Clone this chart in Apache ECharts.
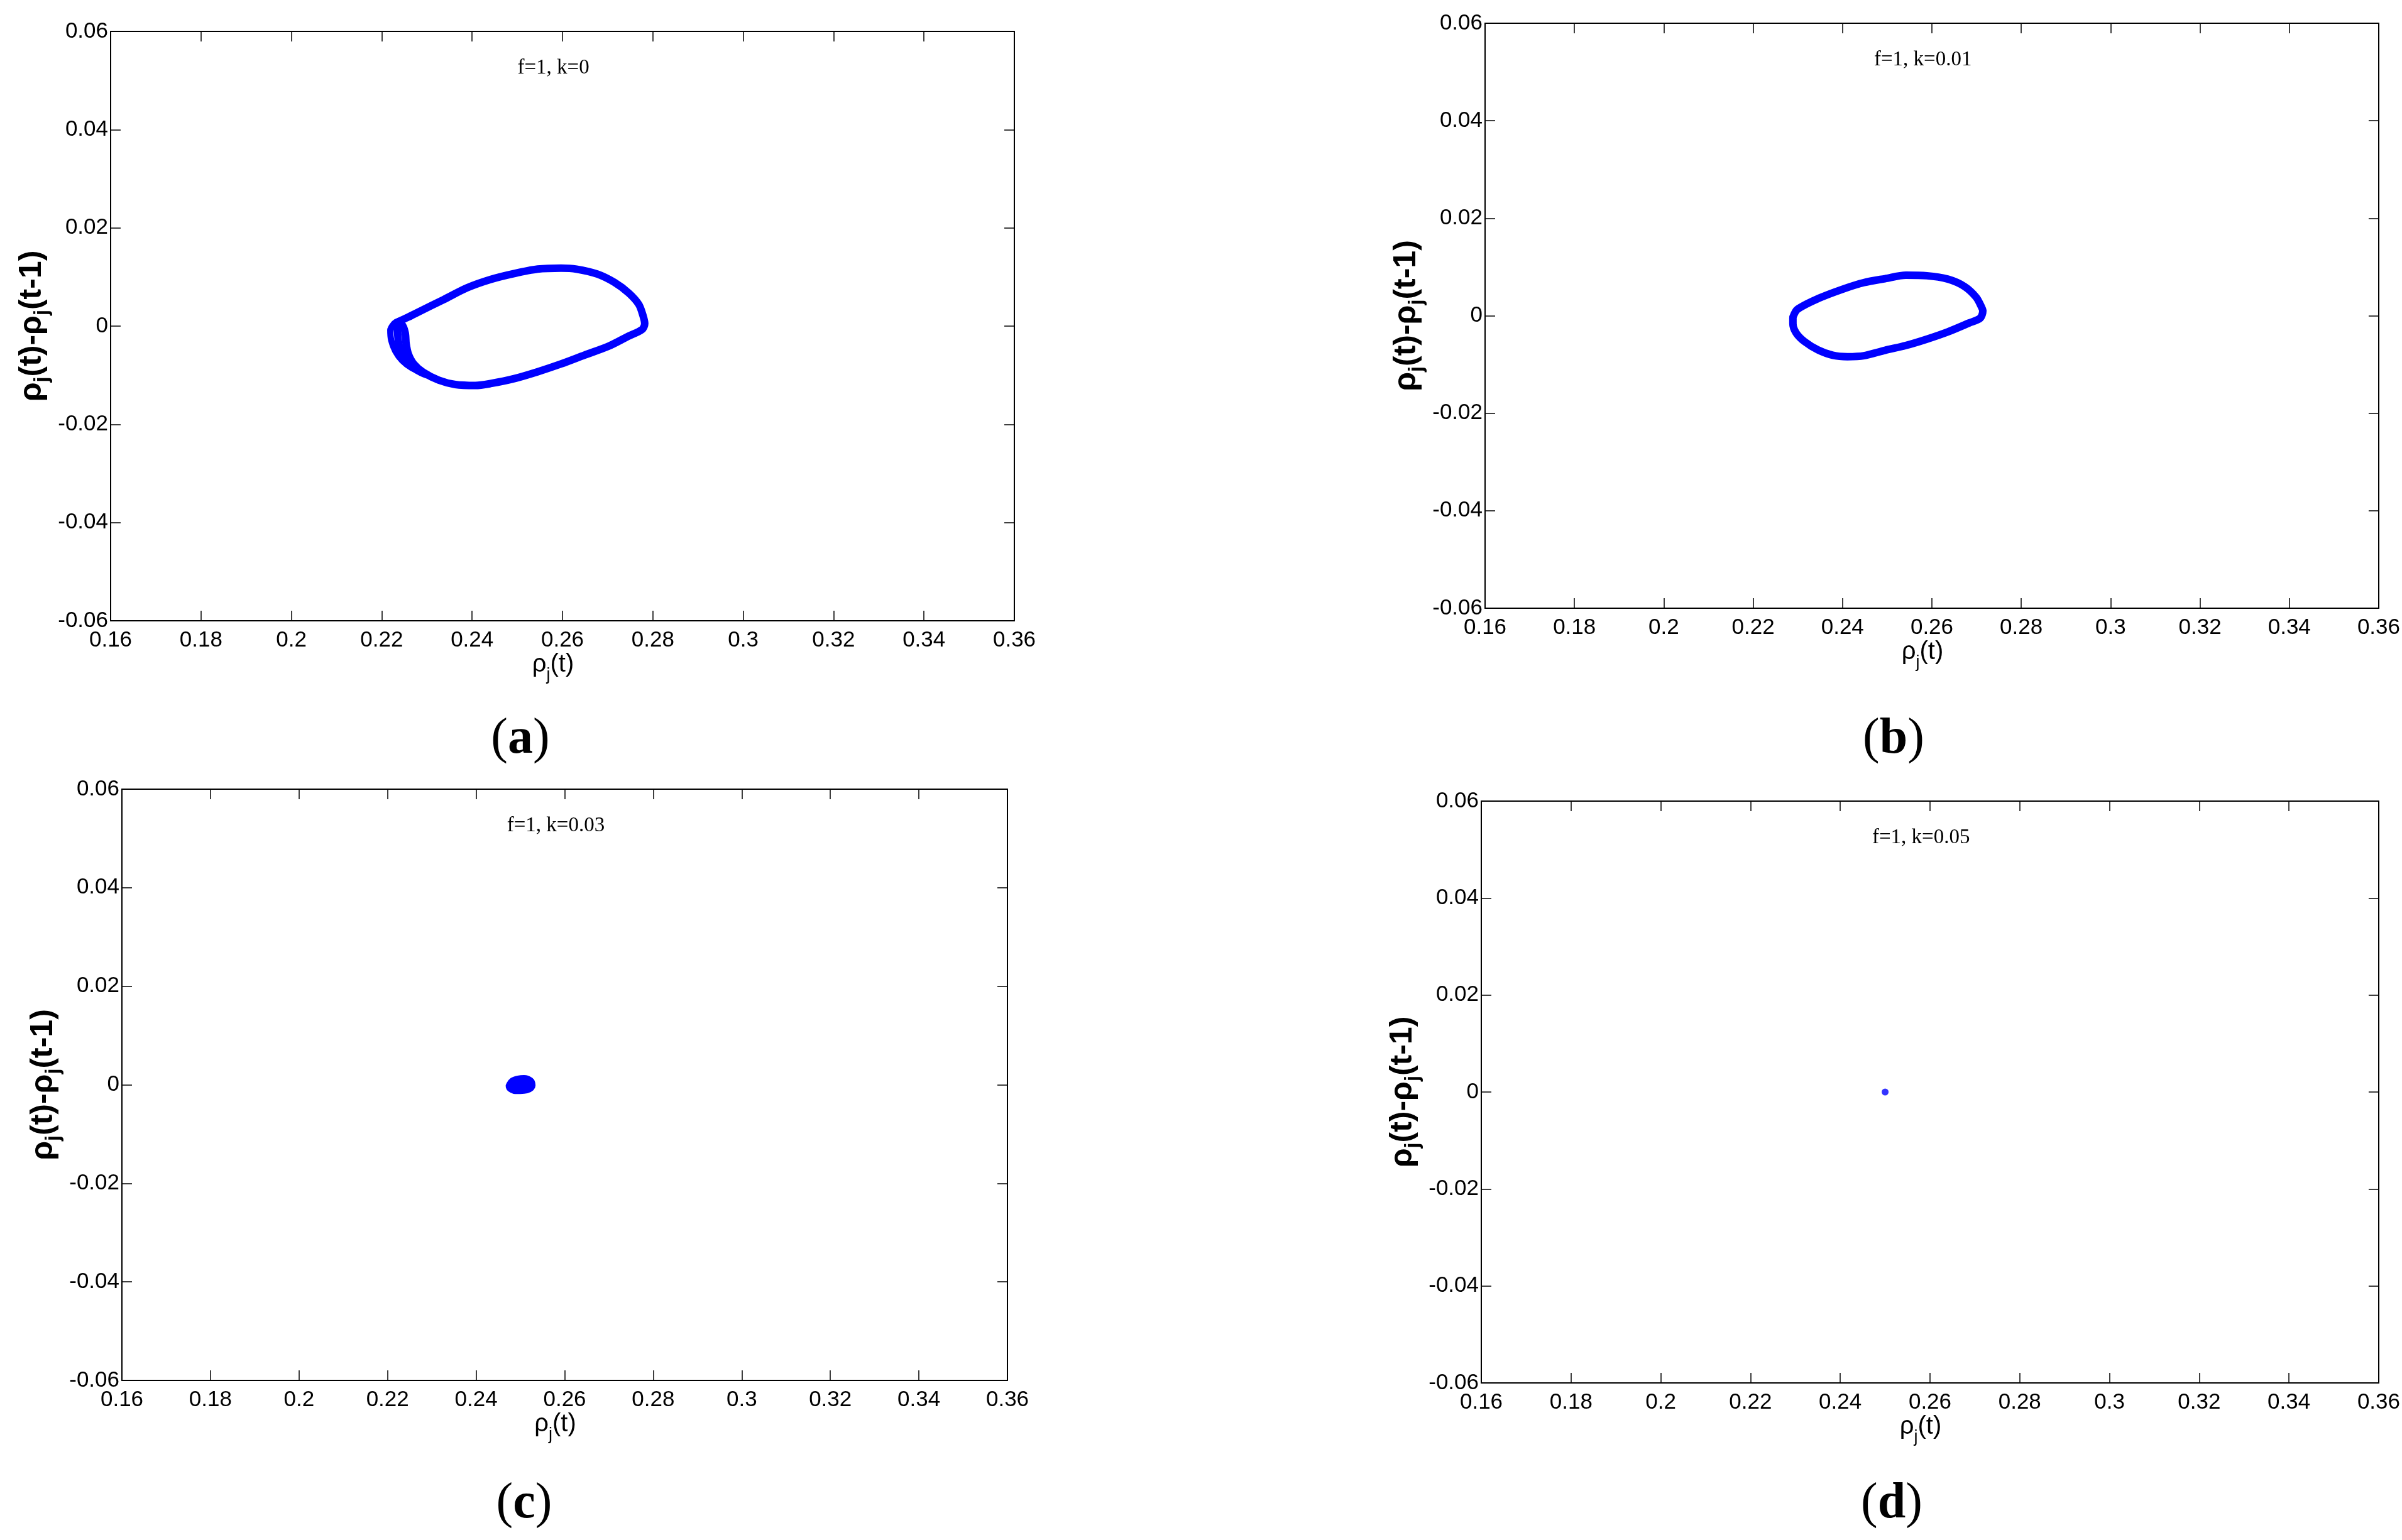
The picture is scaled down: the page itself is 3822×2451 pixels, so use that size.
<!DOCTYPE html>
<html>
<head>
<meta charset="utf-8">
<script src="https://cdn.jsdelivr.net/npm/echarts@6/dist/echarts.min.js"></script>
<style>
  html, body { margin: 0; padding: 0; background: #fff; }
  #container { width: 3822px; height: 2451px; }
</style>
</head>
<body>
<div id="container"></div>
<script>
// phase portraits, rho_j(t) against rho_j(t) - rho_j(t-1)
let xTicks = { min: 0.16, max: 0.36, step: 0.02 };
let yTicks = { min: -0.06, max: 0.06, step: 0.02 };

let titles = ['f=1, k=0', 'f=1, k=0.01', 'f=1, k=0.03', 'f=1, k=0.05'];
let tags = ['a', 'b', 'c', 'd'];
let titleAt = [0.258, 0.0525];

// (a) f=1, k=0 : limit cycle (centre of the band)
let loopA = [
  [0.2232, 0.0007], [0.2258, 0.0018], [0.2284, 0.0030], [0.2337, 0.0054],
  [0.2389, 0.0078], [0.2441, 0.0095], [0.2493, 0.0107], [0.2545, 0.0116],
  [0.2597, 0.0118], [0.2631, 0.0116], [0.2677, 0.0106], [0.2715, 0.0089],
  [0.2747, 0.0067], [0.2769, 0.0044], [0.2778, 0.0022], [0.2782, 0.0005],
  [0.2776, -0.0007], [0.2745, -0.0021], [0.2702, -0.0041], [0.2649, -0.0059],
  [0.2597, -0.0077], [0.2545, -0.0093], [0.2493, -0.0107], [0.2441, -0.0117],
  [0.2407, -0.0121], [0.2363, -0.0119], [0.2326, -0.0110], [0.2292, -0.0094],
  [0.2271, -0.0077], [0.2259, -0.0057], [0.2254, -0.0036], [0.2252, -0.0014],
  [0.2245, 0.0003], [0.2232, 0.0007]
];
// (a) outer strands on the left side of the cycle
let wedgeA = [
  [0.2227, 0.0005], [0.2219, -0.0008], [0.2221, -0.0029], [0.2230, -0.0051],
  [0.2245, -0.0070], [0.2266, -0.0085], [0.2292, -0.0096]
];
let wedgeMidA = [
  [0.2232, 0.0005], [0.2235, -0.0011], [0.2237, -0.0032], [0.2244, -0.0054],
  [0.2258, -0.0074], [0.2279, -0.0090], [0.2300, -0.0099]
];
// (b) f=1, k=0.01
let loopB = [
  [0.2289, -0.0003], [0.2299, 0.0013], [0.2345, 0.0035], [0.2402, 0.0055],
  [0.2448, 0.0068], [0.2495, 0.0076], [0.2542, 0.0083], [0.2589, 0.0082],
  [0.2636, 0.0075], [0.2673, 0.0060], [0.2699, 0.0038], [0.2711, 0.0018],
  [0.2714, 0.0010], [0.2708, -0.0005], [0.2683, -0.0015], [0.2636, -0.0033],
  [0.2589, -0.0048], [0.2542, -0.0061], [0.2495, -0.0071], [0.2448, -0.0082],
  [0.2411, -0.0084], [0.2378, -0.0081], [0.2345, -0.0070], [0.2315, -0.0053],
  [0.2296, -0.0035], [0.2289, -0.0016], [0.2289, -0.0003]
];
// (c) f=1, k=0.03 : small cycle around the fixed point
let blobC = [
  [0.2481, -0.0003], [0.2486, 0.0003], [0.2496, 0.0006], [0.2508, 0.0007],
  [0.2518, 0.0004], [0.2520, -0.0001], [0.2512, -0.0005], [0.2500, -0.0006],
  [0.2488, -0.0006], [0.2481, -0.0003]
];
// (d) f=1, k=0.05 : fixed point
let pointD = [[0.25, 0]];

let grids = [
  { left: 176, top: 50, width: 1438, height: 938 },
  { left: 2363, top: 37, width: 1423, height: 931 },
  { left: 194, top: 1256, width: 1409, height: 941 },
  { left: 2357, top: 1275, width: 1429, height: 926 }
];
let tagPos = [[828, 1177], [3013, 1177], [834, 2394], [3010, 2394]];

const blue = '#0000ff';
const sans = 'Liberation Sans';
const serif = 'Liberation Serif';

function fmt(v) {
  return String(+v.toFixed(2));
}

function axisBase(range) {
  return {
    type: 'value',
    min: range.min,
    max: range.max,
    interval: range.step,
    splitLine: { show: false },
    axisLine: { onZero: false, lineStyle: { color: '#000', width: 2 } },
    axisTick: { inside: true, length: 16, lineStyle: { color: '#000', width: 1.5 } }
  };
}

let xAxis = [];
let yAxis = [];
grids.forEach((g, i) => {
  xAxis.push(Object.assign(axisBase(xTicks), {
    gridIndex: i,
    position: 'bottom',
    axisLabel: { margin: 14, fontFamily: sans, fontSize: 35, color: '#000', formatter: fmt },
    name: '{r|ρ}{s|j}{r|(t)}',
    nameLocation: 'middle',
    nameGap: 35,
    nameTextStyle: {
      padding: [0, 30, 0, 0],
      rich: {
        r: { fontFamily: sans, fontSize: 40, color: '#000', lineHeight: 60, verticalAlign: 'middle' },
        s: { fontFamily: sans, fontSize: 27, color: '#000', lineHeight: 27, verticalAlign: 'bottom' }
      }
    }
  }));
  xAxis.push(Object.assign(axisBase(xTicks), {
    gridIndex: i,
    position: 'top',
    axisLabel: { show: false }
  }));
  yAxis.push(Object.assign(axisBase(yTicks), {
    gridIndex: i,
    position: 'left',
    axisLabel: { margin: 4, fontFamily: sans, fontSize: 35, color: '#000', formatter: fmt },
    name: '{r|ρ}{s|j}{r|(t)-ρ}{s|j}{r|(t-1)}',
    nameLocation: 'middle',
    nameGap: 93,
    nameTextStyle: {
      rich: {
        r: { fontFamily: sans, fontWeight: 'bold', fontSize: 50, color: '#000', lineHeight: 64, verticalAlign: 'middle' },
        s: { fontFamily: sans, fontWeight: 'bold', fontSize: 32, color: '#000', lineHeight: 32, verticalAlign: 'bottom' }
      }
    }
  }));
  yAxis.push(Object.assign(axisBase(yTicks), {
    gridIndex: i,
    position: 'right',
    axisLabel: { show: false }
  }));
});

function loop(data, i, width) {
  return {
    type: 'line',
    xAxisIndex: 2 * i,
    yAxisIndex: 2 * i,
    data: data,
    symbol: 'none',
    smooth: 0.3,
    silent: true,
    lineStyle: { color: blue, width: width, join: 'round', cap: 'round' }
  };
}

let series = [
  loop(loopA, 0, 12),
  loop(wedgeA, 0, 10),
  loop(wedgeMidA, 0, 12),
  loop(loopB, 1, 12),
  loop(blobC, 2, 20),
  {
    type: 'scatter',
    xAxisIndex: 6,
    yAxisIndex: 6,
    data: pointD,
    symbol: 'circle',
    symbolSize: 11,
    silent: true,
    itemStyle: { color: blue }
  }
];

var chart = echarts.init(document.getElementById('container'), null, { renderer: 'canvas' });

let option = {
  backgroundColor: '#fff',
  animation: false,
  grid: grids,
  xAxis: xAxis,
  yAxis: yAxis,
  series: series
};
chart.setOption(option);

// panel captions and "(a)" ... "(d)" tags
let graphic = [];
grids.forEach((g, i) => {
  let p = chart.convertToPixel({ xAxisIndex: 2 * i, yAxisIndex: 2 * i }, titleAt);
  graphic.push({
    type: 'text',
    x: p[0],
    y: p[1],
    style: {
      text: titles[i],
      font: '33px "' + serif + '"',
      fill: '#000',
      align: 'center',
      verticalAlign: 'middle'
    }
  });
  graphic.push({
    type: 'text',
    x: tagPos[i][0],
    y: tagPos[i][1],
    style: {
      text: '{p|(}{b|' + tags[i] + '}{p|)}',
      align: 'center',
      verticalAlign: 'middle',
      rich: {
        p: { fontFamily: serif, fontSize: 80, fill: '#000' },
        b: { fontFamily: serif, fontSize: 80, fontWeight: 'bold', fill: '#000' }
      }
    }
  });
});
chart.setOption({ graphic: graphic });
</script>
</body>
</html>
